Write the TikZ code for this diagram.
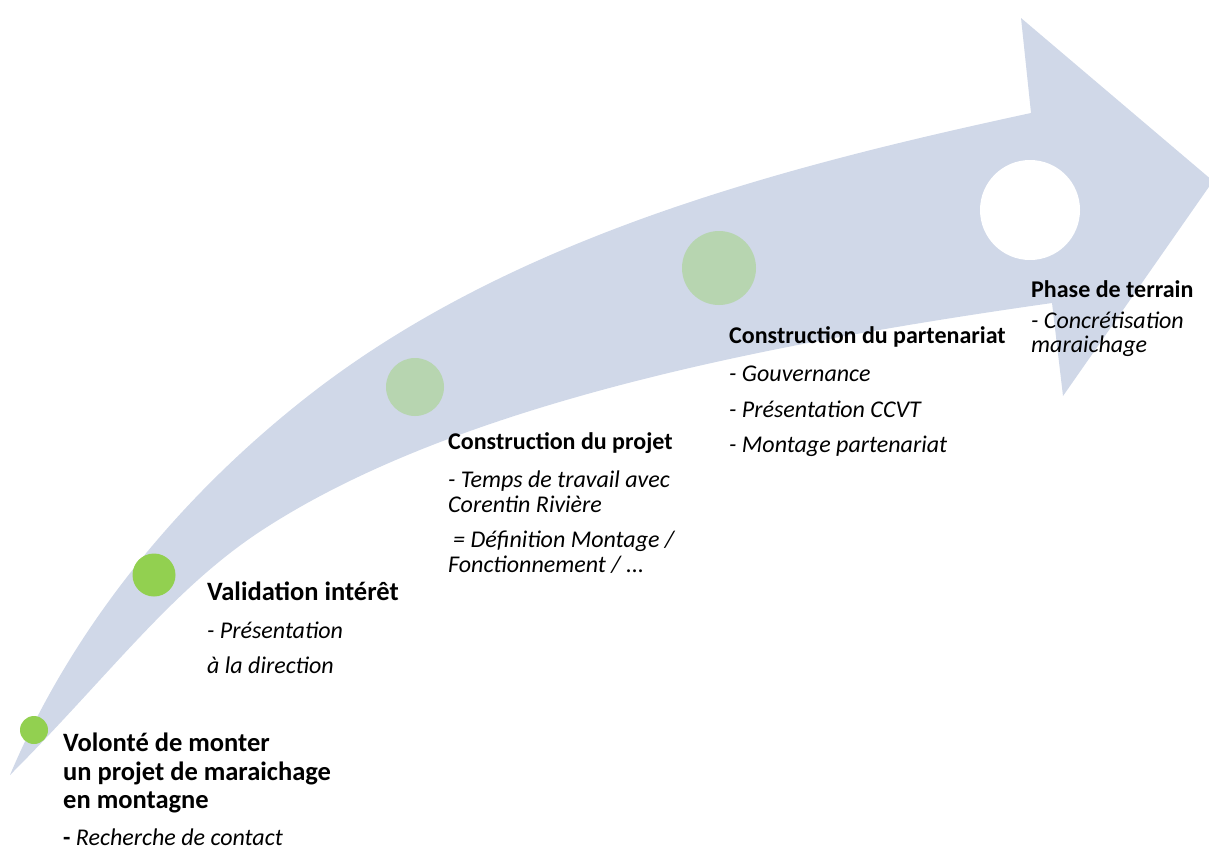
\documentclass[tikz,border=0pt]{standalone}
\usepackage{fontspec}
\setmainfont{Carlito}
\begin{document}
\begin{tikzpicture}[x=1pt,y=-1pt,
  bandcol/.style={fill={rgb,255:red,208;green,216;blue,232}},
  dotA/.style={circle,fill={rgb,255:red,146;green,208;blue,80},inner sep=0pt},
  dotB/.style={circle,fill={rgb,255:red,183;green,213;blue,176},inner sep=0pt},
  dotC/.style={circle,fill=white,inner sep=0pt},
  head/.style={anchor=base west,inner sep=0pt,font=\fontsize{24}{28}\selectfont\bfseries},
  headbig/.style={anchor=base west,inner sep=0pt,font=\fontsize{26.5}{30}\selectfont\bfseries},
  item/.style={anchor=base west,inner sep=0pt,font=\fontsize{24}{28}\selectfont\itshape}]
\useasboundingbox (0,0) rectangle (1209,849);
\begin{scope}
\clip (0,0) rectangle (1209,849);
\fill[bandcol] (10,775) .. controls (72,628) and (178,499) .. (303,400)
  .. controls (506,239) and (776,168) .. (1031,113)
  -- (1021,18) -- (1213,181) -- (1063,396) -- (1052,303)
  .. controls (785,341) and (465,400) .. (267,527)
  .. controls (174,586) and (110,675) .. (10,775) -- cycle;
\end{scope}
\node[dotA,minimum size=28pt] (c1) at (34,730) {};
\node[dotA,minimum size=43pt] (c2) at (154,575) {};
\node[dotB,minimum size=58pt] (c3) at (415,387) {};
\node[dotB,minimum size=74pt] (c4) at (719,268) {};
\node[dotC,minimum size=100pt] (c5) at (1030,210) {};
% block 1
\node[headbig] (t1a) at (63,751) {Volonté de monter};
\node[headbig] (t1b) at (63,780) {un projet de maraichage};
\node[headbig] (t1c) at (63,808) {en montagne};
\node[item] (t1d) at (63,845) {\bfseries\upshape -\mdseries\itshape{} Recherche de contact};
% block 2
\node[headbig] (t2a) at (207,600) {Validation intérêt};
\node[item] (t2b) at (207,638) {- Présentation};
\node[item] (t2c) at (207,673) {à la direction};
% block 3
\node[head] (t3a) at (448,449) {Construction du projet};
\node[item] (t3b) at (448,487) {- Temps de travail avec};
\node[item] (t3c) at (448,512) {Corentin Rivière};
\node[item] (t3d) at (453,547) {= Définition Montage /};
\node[item] (t3e) at (448,572) {Fonctionnement / ...};
% block 4
\node[head] (t4a) at (729,343) {Construction du partenariat};
\node[item] (t4b) at (729,381) {- Gouvernance};
\node[item] (t4c) at (729,417) {- Présentation CCVT};
\node[item] (t4d) at (729,452) {- Montage partenariat};
% block 5
\node[head] (t5a) at (1031,297) {Phase de terrain};
\node[item] (t5b) at (1031,328) {- Concrétisation};
\node[item] (t5c) at (1031,352) {maraichage};
\end{tikzpicture}
\end{document}
